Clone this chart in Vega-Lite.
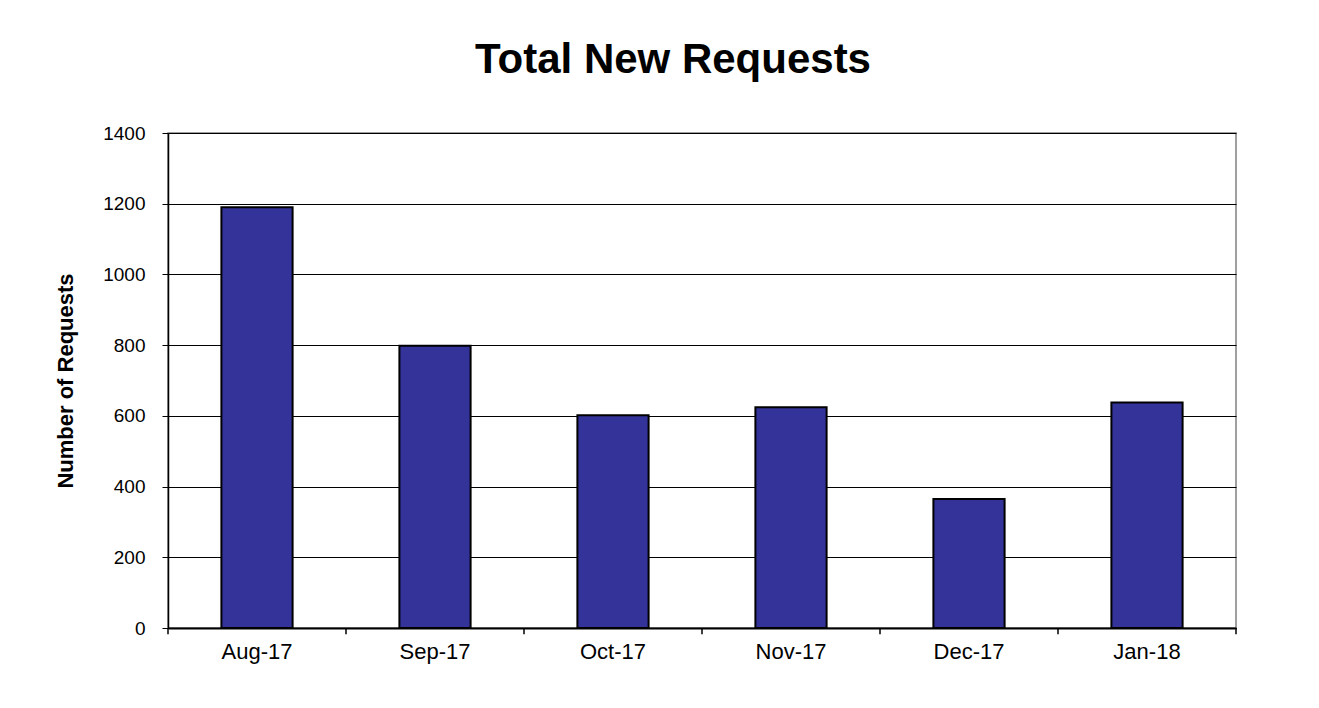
{
  "$schema": "https://vega.github.io/schema/vega-lite/v6.json",
  "width": 1068,
  "height": 495,
  "autosize": "none",
  "padding": {"left": 168, "top": 133, "right": 83, "bottom": 80},
  "background": "white",
  "config": {
    "font": "Liberation Sans",
    "view": {"stroke": "#808080", "strokeWidth": 1.5}
  },
  "title": {
    "text": "Total New Requests",
    "font": "Liberation Sans",
    "fontSize": 42,
    "fontWeight": "bold",
    "color": "black",
    "anchor": "middle",
    "baseline": "alphabetic",
    "offset": 9,
    "dx": -29
  },
  "data": {
    "values": [
      {"month": "Aug-17", "requests": 1190},
      {"month": "Sep-17", "requests": 798},
      {"month": "Oct-17", "requests": 602},
      {"month": "Nov-17", "requests": 624},
      {"month": "Dec-17", "requests": 365},
      {"month": "Jan-18", "requests": 638}
    ]
  },
  "layer": [
    {
      "mark": {"type": "bar", "width": {"band": 0.4}, "fill": "#333399", "stroke": "black", "strokeWidth": 2},
      "encoding": {
        "x": {
          "field": "month",
          "type": "ordinal",
          "sort": null,
          "scale": {"paddingInner": 0, "paddingOuter": 0},
          "axis": {
            "title": null,
            "labelAngle": 0,
            "labelFontSize": 22,
            "labelColor": "black",
            "labelPadding": 13,
            "ticks": false,
            "domain": true,
            "domainColor": "black",
            "domainWidth": 2
          }
        },
        "y": {
          "field": "requests",
          "type": "quantitative",
          "scale": {"domain": [0, 1400], "nice": false},
          "axis": {
            "title": "Number of Requests",
            "titleFontSize": 22,
            "titleFontWeight": "bold",
            "titleColor": "black",
            "titlePadding": 25,
            "values": [0, 200, 400, 600, 800, 1000, 1200, 1400],
            "format": "d",
            "labelFontSize": 19,
            "labelColor": "black",
            "labelPadding": 17,
            "tickSize": 6,
            "tickColor": "black",
            "domainColor": "black",
            "domainWidth": 1.5,
            "grid": true,
            "gridColor": "black",
            "gridWidth": 1
          }
        }
      }
    },
    {
      "mark": {"type": "rule", "color": "black", "strokeWidth": 1.5, "clip": false},
      "encoding": {
        "x": {"field": "month", "type": "ordinal", "sort": null, "bandPosition": 0},
        "y": {"datum": 0},
        "y2": {"datum": -18}
      }
    },
    {
      "transform": [{"filter": "datum.month === 'Jan-18'"}],
      "mark": {"type": "rule", "color": "black", "strokeWidth": 1.5, "clip": false},
      "encoding": {
        "x": {"field": "month", "type": "ordinal", "sort": null, "bandPosition": 1},
        "y": {"datum": 0},
        "y2": {"datum": -18}
      }
    }
  ]
}
